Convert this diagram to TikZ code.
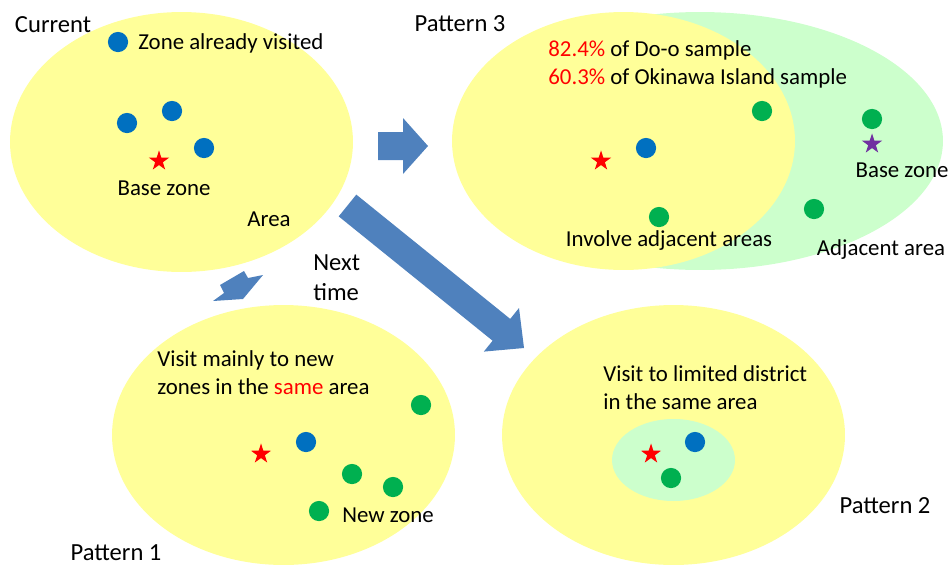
\documentclass[tikz,border=0pt]{standalone}
\usepackage{fontspec}
\setmainfont{Carlito}
\usepackage{tikz}
\usetikzlibrary{shapes.geometric}
\definecolor{areayellow}{HTML}{FFFF99}
\definecolor{adjgreen}{HTML}{CCFFCC}
\definecolor{zoneblue}{HTML}{0070C0}
\definecolor{zonegreen}{HTML}{00B050}
\definecolor{arrowblue}{HTML}{4F81BD}
\definecolor{basepurple}{HTML}{7030A0}
\definecolor{basered}{HTML}{FF0000}
\newcommand{\lblfont}{\fontsize{13}{16}\selectfont}
\newcommand{\ttlfont}{\fontsize{14}{17}\selectfont}

\begin{document}
\begin{tikzpicture}[
  x=0.02cm, y=-0.02cm,
  area/.style={fill=areayellow},
  adjarea/.style={fill=adjgreen},
  zone/.style={circle, inner sep=0pt, minimum size=11.5pt},
  visited/.style={zone, fill=zoneblue},
  newzone/.style={zone, fill=zonegreen},
  base/.style={star, star points=5, star point ratio=2.6,
    inner sep=0pt, minimum size=12pt, fill=basered},
  lbl/.style={font=\lblfont, inner sep=0pt},
  ttl/.style={font=\ttlfont, inner sep=0pt},
  blockarrow/.style={fill=arrowblue}
]
\useasboundingbox (0,0) rectangle (952,565);

% 現在
\fill[area] (181.5,142) ellipse (3.43cm and 2.6cm);
\node[ttl,anchor=mid] (curtitle) at (53,28) {Current};
\node[visited] (cv0) at (118,42) {};
\node[lbl,anchor=mid west] (cvlabel) at (138,45) {Zone already visited};
\node[visited] (cv1) at (127,123) {};
\node[visited] (cv2) at (172,111) {};
\node[visited] (cv3) at (204,148) {};
\node[base] (cbase) at (159,161) {};
\node[lbl,anchor=mid] (cbaselabel) at (164,191) {Base zone};
\node[lbl,anchor=mid] (carea) at (269,222) {Area};

% 矢印
\fill[blockarrow] (378,132) -- (403,132) -- (403,118) -- (428,146)
  -- (403,174) -- (403,160) -- (378,160) -- cycle;
\fill[blockarrow] (338.7,216.4) -- (356.3,194.6) -- (510.2,318.9)
  -- (519.0,308.0) -- (524,348) -- (483.8,351.6) -- (492.6,340.7) -- cycle;
\fill[blockarrow] (220,285) -- (244,271) -- (248,278) -- (263,275)
  -- (243,299) -- (213,301) -- (224,293) -- cycle;
\node[ttl,anchor=west,align=left] (nexttime) at (313,278) {Next\\time};

% パターン3
\fill[adjarea] (700,141) ellipse (4.86cm and 2.58cm);
\fill[area] (623.5,141) ellipse (3.43cm and 2.58cm);
\node[ttl,anchor=mid] (p3title) at (460,27) {Pattern 3};
\node[lbl,anchor=west,align=left] (p3share) at (548,64)
  {{\color{basered}82.4\%} of Do-o sample\\{\color{basered}60.3\%} of Okinawa Island sample};
\node[base] (p3base) at (601,161) {};
\node[visited] (p3v) at (646,148) {};
\node[newzone] (p3n1) at (762,111) {};
\node[newzone] (p3n2) at (872,119) {};
\node[newzone] (p3n3) at (814,209) {};
\node[newzone] (p3n4) at (659,217) {};
\node[base,fill=basepurple] (p3adjbase) at (872,144) {};
\node[lbl,anchor=mid] (p3baselabel) at (902,173) {Base zone};
\node[lbl,anchor=mid] (p3involve) at (669,242) {Involve adjacent areas};
\node[lbl,anchor=mid] (p3adj) at (881,251) {Adjacent area};

% パターン1
\fill[area] (283.5,435) ellipse (3.43cm and 2.6cm);
\node[ttl,anchor=mid] (p1title) at (116,556) {Pattern 1};
\node[lbl,anchor=west,align=left] (p1text) at (157,373)
  {Visit mainly to new\\zones in the {\color{basered}same} area};
\node[base] (p1base) at (261,454) {};
\node[visited] (p1v) at (306,442) {};
\node[newzone] (p1n1) at (421,405) {};
\node[newzone] (p1n2) at (352,474) {};
\node[newzone] (p1n3) at (393,487) {};
\node[newzone] (p1n4) at (319,511) {};
\node[lbl,anchor=mid] (p1newlabel) at (388,518) {New zone};

% パターン2
\fill[area] (673.5,435) ellipse (3.43cm and 2.6cm);
\fill[adjarea] (673.5,460) ellipse (1.23cm and 0.82cm);
\node[ttl,anchor=mid] (p2title) at (885,509) {Pattern 2};
\node[lbl,anchor=west,align=left] (p2text) at (603,388)
  {Visit to limited district\\in the same area};
\node[base] (p2base) at (651,454) {};
\node[visited] (p2v) at (695,442) {};
\node[newzone] (p2n) at (671,478) {};
\end{tikzpicture}
\end{document}
